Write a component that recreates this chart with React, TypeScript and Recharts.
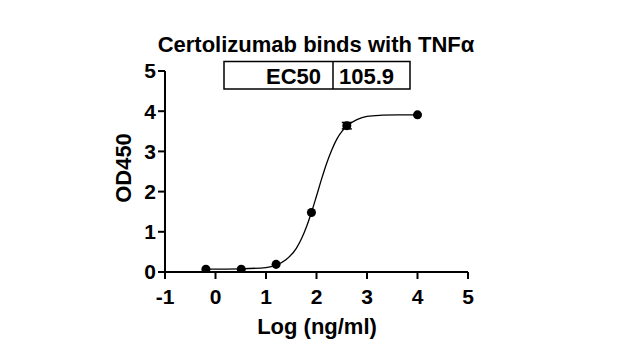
import {
  ComposedChart,
  Line,
  Scatter,
  ErrorBar,
  XAxis,
  YAxis,
  Customized,
} from "recharts";

// measured points (log conc vs OD450)
const logConc = [-0.19, 0.51, 1.2, 1.9, 2.6, 4.0];
const od450 = [0.07, 0.07, 0.19, 1.48, 3.64, 3.91];
const odErr = [0, 0, 0, 0, 0.08, 0];

// fitted curve
const curveX = [-0.19, 0.5, 1.0, 1.2, 1.4, 1.6, 1.7, 1.8, 1.9, 2.0, 2.1, 2.2, 2.3, 2.4, 2.5, 2.6, 2.8, 3.0, 3.3, 3.6, 4.0];
const curveY = [0.07, 0.08, 0.11, 0.17, 0.31, 0.59, 0.82, 1.12, 1.48, 1.89, 2.31, 2.7, 3.03, 3.3, 3.49, 3.63, 3.79, 3.87, 3.9, 3.91, 3.91];

const xTicks = [-1, 0, 1, 2, 3, 4, 5];
const yTicks = [0, 1, 2, 3, 4, 5];

const TITLE = "Certolizumab binds with TNFα";
const EC50_LABEL = "EC50";
const EC50_VALUE = "105.9";

const FONT = "'Liberation Sans', Arial, sans-serif";

const points = logConc.map((x, i) => ({ x, y: od450[i], err: odErr[i] }));
const curve = curveX.map((x, i) => ({ x, y: curveY[i] }));

function Annotations() {
  return (
    <g fontFamily={FONT} fontWeight="bold" fill="#000">
      <text x={316} y={52} textAnchor="middle" fontSize={22}>
        {TITLE}
      </text>
      <rect x={224} y={61.5} width={186} height={27.5} fill="none" stroke="#000" strokeWidth={1.5} />
      <line x1={333} y1={61.5} x2={333} y2={89} stroke="#000" strokeWidth={1.5} />
      <text x={321} y={84} textAnchor="end" fontSize={22}>
        {EC50_LABEL}
      </text>
      <text x={339} y={84} fontSize={22}>
        {EC50_VALUE}
      </text>
      <text transform="translate(131,168) rotate(-90)" textAnchor="middle" fontSize={22}>
        OD450
      </text>
      <text x={317} y={334} textAnchor="middle" fontSize={22}>
        Log (ng/ml)
      </text>
    </g>
  );
}

const tickStyle = { fill: "#000", fontSize: 21, fontWeight: "bold", fontFamily: FONT };

export default function App() {
  return (
    <div style={{ position: "absolute", left: 0, top: 0, width: 620, height: 360, background: "#fff" }}>
      <ComposedChart width={620} height={360} margin={{ top: 71, right: 152, bottom: 0, left: 0 }}>
        <XAxis
          type="number"
          dataKey="x"
          domain={[-1, 5]}
          ticks={xTicks}
          allowDataOverflow
          height={88}
          axisLine={{ stroke: "#000", strokeWidth: 2 }}
          tickLine={{ stroke: "#000", strokeWidth: 2 }}
          tickSize={7}
          tickMargin={10}
          tick={tickStyle}
        />
        <YAxis
          type="number"
          dataKey="y"
          domain={[0, 5]}
          ticks={yTicks}
          allowDataOverflow
          width={165}
          axisLine={{ stroke: "#000", strokeWidth: 2 }}
          tickLine={{ stroke: "#000", strokeWidth: 2 }}
          tickSize={7}
          tickMargin={2}
          tick={tickStyle}
        />
        <Line
          data={curve}
          dataKey="y"
          type="monotone"
          stroke="#000"
          strokeWidth={1.3}
          dot={false}
          activeDot={false}
          isAnimationActive={false}
        />
        <Scatter data={points} dataKey="y" fill="#000" shape="circle" isAnimationActive={false}>
          <ErrorBar dataKey="err" direction="y" width={5} stroke="#000" strokeWidth={1.5} />
        </Scatter>
        <Customized component={Annotations} />
      </ComposedChart>
    </div>
  );
}
